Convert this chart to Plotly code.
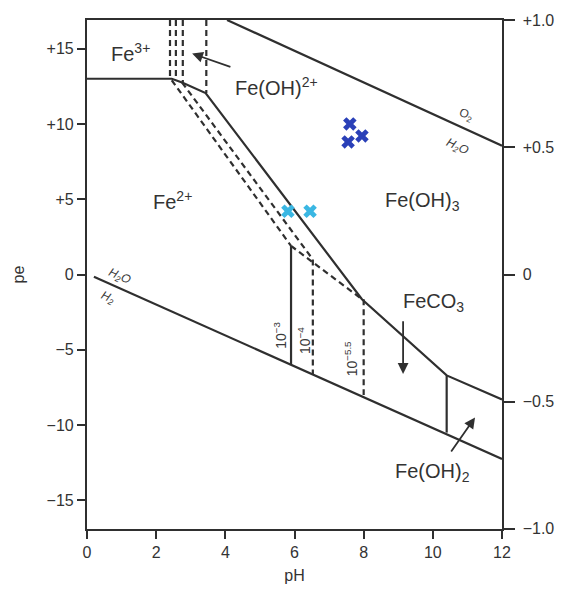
import plotly.graph_objects as go

# ---------------- data (pH, pe) ----------------
solid_ph = [0, 2.45, 2.75, 3.43, 7.95, 10.4, 12]
solid_pe = [13, 13, 12.75, 12.05, -1.64, -6.7, -8.3]

o2_ph = [4.05, 12]
o2_pe = [16.9, 8.55]
h2_ph = [0.2, 12]
h2_pe = [-0.15, -12.25]

d1_ph = [2.45, 5.9]
d1_pe = [12.9, 1.9]
d2_ph = [2.75, 6.53]
d2_pe = [12.75, 1.0]
dco3_ph = [5.9, 7.95]
dco3_pe = [1.9, -1.64]

vdash_ph = [2.4, 2.57, 2.77, 3.45, 6.53, 8.0]
vdash_top = [16.9, 16.9, 16.9, 16.9, 1.0, -1.64]
vdash_bot = [13.0, 13.0, 12.75, 12.05, -6.6, -8.0]

vsolid_ph = [5.9, 10.4]
vsolid_top = [1.9, -6.7]
vsolid_bot = [-6.0, -10.5]

dark_ph = [7.6, 7.55, 7.95]
dark_pe = [10.0, 8.8, 9.2]
light_ph = [5.81, 6.45]
light_pe = [4.2, 4.2]

x_ticks = [0, 2, 4, 6, 8, 10, 12]
pe_ticks = [-15, -10, -5, 0, 5, 10, 15]
pe_labels = ["\u221215", "\u221210", "\u22125", "0", "+5", "+10", "+15"]
eh_vals = [-1.0, -0.5, 0, 0.5, 1.0]
eh_labels = ["\u00a0\u22121.0", "\u00a0\u22120.5", "\u00a00", "\u00a0+0.5", "\u00a0+1.0"]

PE_RANGE = [-16.9, 16.9]
LC = "#2f2f2f"
LW = 2.2

fig = go.Figure()

def line(xs, ys, dash="solid", width=LW):
    fig.add_trace(go.Scatter(x=xs, y=ys, mode="lines",
                             line=dict(color=LC, width=width, dash=dash),
                             hoverinfo="skip", showlegend=False))

line(solid_ph, solid_pe)
line(o2_ph, o2_pe)
line(h2_ph, h2_pe)
DASH = "6px,4px"
line(d1_ph, d1_pe, DASH)
line(d2_ph, d2_pe, DASH)
line(dco3_ph, dco3_pe, DASH)
for p, t, b in zip(vdash_ph, vdash_top, vdash_bot):
    line([p, p], [t, b], DASH)
for p, t, b in zip(vsolid_ph, vsolid_top, vsolid_bot):
    line([p, p], [t, b])

fig.add_trace(go.Scatter(x=dark_ph, y=dark_pe, mode="markers",
                         marker=dict(symbol="x", size=12, color="#2a40b8",
                                     line=dict(width=0)),
                         showlegend=False, hoverinfo="skip"))
fig.add_trace(go.Scatter(x=light_ph, y=light_pe, mode="markers",
                         marker=dict(symbol="x", size=12, color="#3ab7e3",
                                     line=dict(width=0)),
                         showlegend=False, hoverinfo="skip"))
# invisible trace to activate right axis
fig.add_trace(go.Scatter(x=[0], y=[0], yaxis="y2", mode="markers",
                         marker=dict(opacity=0), showlegend=False,
                         hoverinfo="skip"))

FONT = "Liberation Sans, Arial, sans-serif"
lab = dict(family=FONT, size=20, color="#333333")

def txt(x, y, s, font=lab, angle=0):
    fig.add_annotation(x=x, y=y, text=s, showarrow=False, font=font,
                       textangle=angle, xanchor="center", yanchor="middle")

txt(1.27, 14.73, "Fe<sup>3+</sup>")
txt(5.49, 12.5, "Fe(OH)<sup>2+</sup>")
txt(2.46, 4.9, "Fe<sup>2+</sup>")
txt(9.69, 4.85, "Fe(OH)<sub>3</sub>")
txt(10.03, -1.83, "FeCO<sub>3</sub>")
txt(10.0, -13.16, "Fe(OH)<sub>2</sub>")

small = dict(family=FONT, size=12, color="#3a3a3a")
ital = dict(family=FONT, size=12, color="#3a3a3a")
txt(10.95, 10.6, "O<sub>2</sub>", small, 25)
txt(10.7, 8.5, "<i>H<sub>2</sub>O</i>", ital, 25)
txt(0.95, -0.15, "<i>H<sub>2</sub>O</i>", ital, 24)
txt(0.6, -1.55, "<i>H<sub>2</sub></i>", ital, 24)

conc = dict(family=FONT, size=14, color="#3a3a3a")
txt(5.58, -4.0, "10<sup>\u22123</sup>", conc, -90)
txt(6.28, -4.4, "10<sup>\u22124</sup>", conc, -90)
txt(7.62, -5.6, "10<sup>\u22125.5</sup>", conc, -90)

def arrow(x0, y0, x1, y1):
    fig.add_annotation(x=x1, y=y1, ax=x0, ay=y0, xref="x", yref="y",
                       axref="x", ayref="y", text="", showarrow=True,
                       arrowhead=2, arrowsize=1.2, arrowwidth=1.8,
                       arrowcolor=LC)

arrow(4.19, 13.75, 3.04, 14.67)
arrow(9.14, -3.0, 9.14, -6.6)
arrow(10.5, -11.85, 11.22, -9.5)

tickfont = dict(family=FONT, size=16, color="#333333")
fig.update_layout(
    width=572, height=594,
    margin=dict(l=87, r=70, t=14, b=64),
    paper_bgcolor="white", plot_bgcolor="white",
    xaxis=dict(range=[0, 12], tickvals=x_ticks, ticks="outside", ticklen=8,
               tickwidth=2, tickcolor=LC, showgrid=False, zeroline=False,
               showline=True, linecolor=LC, linewidth=2.2, mirror=True,
               tickfont=tickfont,
               title=dict(text="pH", font=dict(family=FONT, size=16, color="#333"),
                          standoff=10)),
    yaxis=dict(range=PE_RANGE, tickvals=pe_ticks, ticktext=pe_labels,
               ticks="outside", ticklen=8, tickwidth=2, tickcolor=LC,
               showgrid=False, zeroline=False, showline=True, linecolor=LC,
               linewidth=2.2, mirror=True, tickfont=tickfont,
               title=dict(text="pe", font=dict(family=FONT, size=16, color="#333"),
                          standoff=18)),
    yaxis2=dict(range=PE_RANGE, overlaying="y", side="right",
                tickvals=[v / 0.0592 for v in eh_vals], ticktext=eh_labels,
                ticks="outside", ticklen=12, tickwidth=2, tickcolor=LC,
                showgrid=False, zeroline=False, showline=False,
                tickfont=tickfont),
)

fig.write_html("out.html")
